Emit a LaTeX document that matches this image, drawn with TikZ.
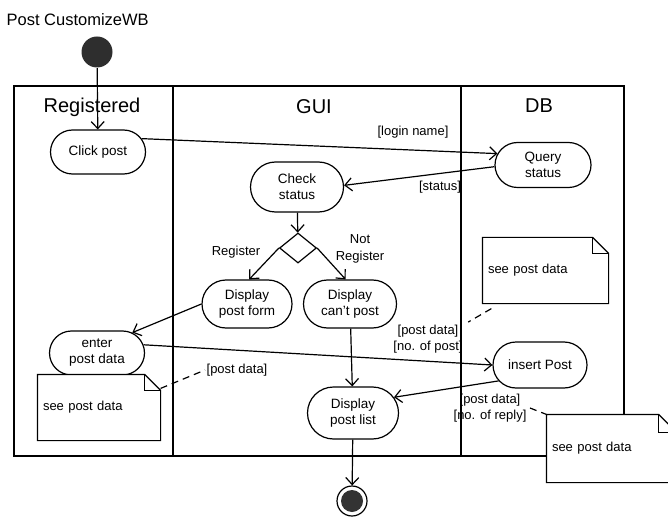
\documentclass[tikz,border=0pt]{standalone}
\usepackage{fontspec}
\setmainfont{Liberation Sans}
\usetikzlibrary{arrows.meta,shapes.misc,shapes.geometric}
\newcommand\notefold[2]{%
  \draw (#1.north west) -- ([xshift=-#2]#1.north east) -- ([yshift=-#2]#1.north east) -- (#1.south east) -- (#1.south west) -- cycle;
  \draw ([xshift=-#2]#1.north east) |- ([yshift=-#2]#1.north east);}
\begin{document}
\begin{tikzpicture}[x=1pt,y=-1pt,line width=1.2pt,
  act/.style={rounded rectangle, draw, fill=white, inner sep=1pt, align=center, font=\fontsize{13.5}{16}\selectfont},
  lbl/.style={align=center, inner sep=1pt, font=\fontsize{13}{16.5}\selectfont},
  head/.style={font=\fontsize{20}{24}\selectfont, inner sep=0pt},
  note/.style={rectangle, fill=white, inner xsep=5pt, align=left, text width=#1, font=\fontsize{13}{16}\selectfont},
  flow/.style={-{Straight Barb[length=7pt,width=13pt]}},
  link/.style={dash pattern=on 7pt off 5pt}
]
\useasboundingbox[fill=white] (0,0) rectangle (668,518);

% title
\node[anchor=west, inner sep=0pt, font=\fontsize{16.5}{20}\selectfont] (title) at (6,20) {Post CustomizeWB};

% swimlanes
\draw (14,86) rectangle (624,456);
\draw (173,86) -- (173,456);
\draw (461,86) -- (461,456);
\node[head] (hReg) at (92,107) {Registered};
\node[head] (hGUI) at (314,107) {GUI};
\node[head] (hDB) at (539,106) {DB};

% start / end
\node[circle, fill=black!82, minimum size=31pt, inner sep=0pt] (start) at (97,52) {};
\node[circle, draw, fill=white, minimum size=30pt, inner sep=0pt] (end) at (352,501) {};
\fill[black!80] (end.center) circle (11pt);

% activities
\node[act, minimum width=97pt, minimum height=44pt] (click) at (98,152) {Click post};
\node[act, minimum width=95pt, minimum height=50pt] (check) at (297,187) {Check\\status};
\node[act, minimum width=98pt, minimum height=45pt] (query) at (543,165) {Query\\status};
\node[diamond, draw, fill=white, minimum width=37pt, minimum height=30pt, inner sep=0pt] (dec) at (298,248) {};
\node[act, minimum width=92pt, minimum height=48pt] (form) at (247,304) {Display\\post form};
\node[act, minimum width=95pt, minimum height=48pt] (cant) at (350,304) {Display\\can't post};
\node[act, minimum width=97pt, minimum height=44pt] (enter) at (97,353) {enter\\post data};
\node[act, minimum width=93pt, minimum height=52pt] (list) at (353,413) {Display\\post list};
\node[act, minimum width=96pt, minimum height=46pt] (insert) at (540,365) {insert Post};

% notes
\node[note=112pt, minimum width=122pt, minimum height=65pt] (noteL) at (99,407.5) {see post data};
\notefold{noteL}{16pt}
\node[note=115pt, minimum width=125pt, minimum height=65pt] (noteTR) at (545.5,270.5) {see post data};
\notefold{noteTR}{16pt}
\node[note=119pt, minimum width=129pt, minimum height=67pt] (noteBR) at (611.5,448.5) {see post data};
\notefold{noteBR}{18pt}

% labels
\node[lbl] (lLogin) at (413,132) {[login name]};
\node[lbl] (lStatus) at (440,187) {[status]};
\node[lbl] (lReg) at (236,252) {Register};
\node[lbl] (lNot) at (360,249) {Not\\Register};
\node[lbl] (lPost1) at (428,339) {[post data]\\{}[no. of post]};
\node[lbl] (lPostL) at (237,370) {[post data]};
\node[lbl] (lPost2) at (490,408) {[post data]\\{}[no. of reply]};

% flows
\draw[flow] (start) -- (click);
\draw[flow] (click.17) -- (query.166);
\draw[flow] (query.182) -- (check.2);
\draw[flow] (check) -- (dec);
\draw[flow] (dec.west) -- (form.85);
\draw[flow] (dec.east) -- (cant.100);
\draw[flow] (form.west) -- (enter.30);
\draw[flow] (enter.10) -- (insert.west);
\draw[flow] (cant) -- (list);
\draw[flow] (insert.201) -- (list.21);
\draw[flow] (list) -- (end);

% note links
\draw[link] ([yshift=-14pt]noteL.north east) -- (lPostL.west);
\draw[link] ([shift={(9pt,-5pt)}]noteTR.south west) -- ([shift={(4pt,1pt)}]lPost1.north east);
\draw[link] ([xshift=2pt]lPost2.east) -- (noteBR.north west);
\end{tikzpicture}
\end{document}
